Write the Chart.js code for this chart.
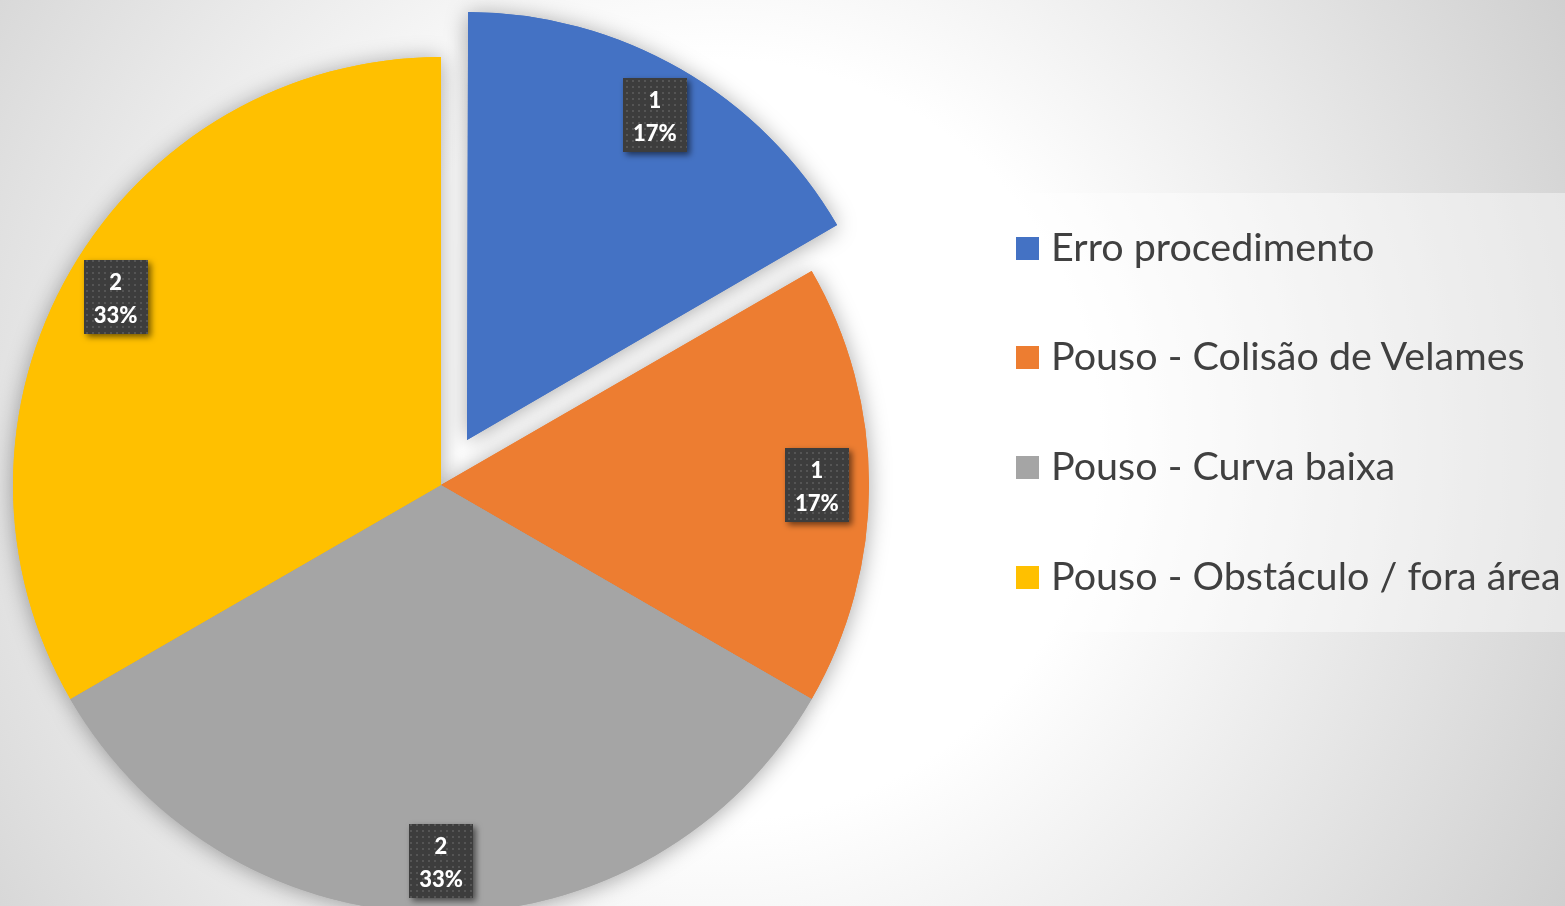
<!DOCTYPE html>
<html>
<head>
<meta charset="utf-8">
<script src="https://cdn.jsdelivr.net/npm/chart.js@4/dist/chart.umd.min.js"></script>
<style>
  html, body { margin: 0; padding: 0; width: 1565px; height: 906px; overflow: hidden; }
  body {
    background: radial-gradient(circle at 720px 440px, #ffffff 0px, #ffffff 380px, #cccccc 1000px);
    font-family: Lato, "Open Sans", sans-serif;
    position: relative;
  }
  #wrap { position: absolute; left: 0; top: 0; width: 1565px; height: 906px; }
  #legend {
    position: absolute; left: 979px; top: 193px; width: 600px; height: 439px;
    background: rgba(255,255,255,0.42);
  }
  .item { position: absolute; left: 37px; height: 50px; display: flex; align-items: center; white-space: nowrap; }
  .sw { width: 23px; height: 23px; margin-right: 12px; flex: none; }
  .lbl { font-size: 39.5px; color: #404040; line-height: 50px; }
</style>
</head>
<body>
<div id="wrap"><canvas id="c" width="1565" height="906"></canvas></div>
<div id="legend"></div>
<script>
const categories = ['Erro procedimento', 'Pouso - Colisão de Velames', 'Pouso - Curva baixa', 'Pouso - Obstáculo / fora área'];
const counts = [1, 1, 2, 2];
const sliceColors = ['#4472C4', '#ED7D31', '#A5A5A5', '#FFC000'];

// HTML legend built from the data arrays
const legendEl = document.getElementById('legend');
const rowCenters = [53, 162, 272, 382];
categories.forEach((name, i) => {
  const row = document.createElement('div');
  row.className = 'item';
  row.style.top = (rowCenters[i] - 25) + 'px';
  const sw = document.createElement('span');
  sw.className = 'sw';
  sw.style.background = sliceColors[i];
  sw.style.marginTop = '4px';
  const t = document.createElement('span');
  t.className = 'lbl';
  t.textContent = name;
  row.appendChild(sw); row.appendChild(t);
  legendEl.appendChild(row);
});

const PIE_R = 428;

function makePattern(ctx) {
  const p = document.createElement('canvas');
  p.width = 6; p.height = 6;
  const g = p.getContext('2d');
  g.fillStyle = '#3d3d3d'; g.fillRect(0, 0, 6, 6);
  g.fillStyle = '#555555'; g.fillRect(2, 2, 2, 2);
  return ctx.createPattern(p, 'repeat');
}

const fixExplode = {
  id: 'fixExplode',
  afterDatasetsUpdate(chart) {
    chart.getDatasetMeta(0).data.forEach(arc => {
      const off = (arc.options.offset || 0) / 4;
      const circ = arc.endAngle - arc.startAngle;
      arc.outerRadius = PIE_R - off * (1 - Math.sin(Math.min(Math.PI, circ)));
    });
  }
};

const sliceShadow = {
  id: 'sliceShadow',
  beforeDatasetsDraw(chart) {
    const ctx = chart.ctx;
    ctx.save();
    ctx.shadowColor = 'rgba(0,0,0,0.35)';
    ctx.shadowBlur = 22;
    ctx.shadowOffsetX = 0;
    ctx.shadowOffsetY = 2;
    chart.getDatasetMeta(0).data.forEach(arc => arc.draw(ctx));
    ctx.restore();
  }
};

const dataLabels = {
  id: 'dataLabels',
  afterDatasetsDraw(chart) {
    const ctx = chart.ctx;
    const meta = chart.getDatasetMeta(0);
    const ds = chart.data.datasets[0];
    const total = ds.data.reduce((a, b) => a + b, 0);
    const pat = makePattern(ctx);
    meta.data.forEach((arc, i) => {
      const mid = (arc.startAngle + arc.endAngle) / 2;
      const off = (arc.options.offset || 0) / 4;
      const r = off + PIE_R * 0.878;
      const cx = arc.x + Math.cos(mid) * r;
      const cy = arc.y + Math.sin(mid) * r;
      const w = 64, h = 74;
      ctx.save();
      ctx.shadowColor = 'rgba(0,0,0,0.55)';
      ctx.shadowBlur = 6;
      ctx.shadowOffsetX = 3;
      ctx.shadowOffsetY = 3;
      ctx.fillStyle = pat;
      ctx.fillRect(Math.round(cx - w / 2), Math.round(cy - h / 2), w, h);
      ctx.restore();
      ctx.save();
      ctx.fillStyle = '#ffffff';
      ctx.font = '900 22px Lato';
      ctx.textAlign = 'center';
      ctx.textBaseline = 'alphabetic';
      const v = ds.data[i];
      ctx.fillText(String(v), cx, cy - 7);
      ctx.fillText(Math.round(v / total * 100) + '%', cx, cy + 26);
      ctx.restore();
    });
  }
};

new Chart(document.getElementById('c'), {
  type: 'pie',
  data: {
    labels: categories,
    datasets: [{
      data: counts,
      backgroundColor: sliceColors,
      borderWidth: 0,
      offset: [208, 0, 0, 0],
      hoverOffset: 0
    }]
  },
  options: {
    responsive: false,
    animation: false,
    events: [],
    radius: PIE_R,
    layout: { padding: { left: 0, right: 683, top: 64, bottom: 0 } },
    plugins: { legend: { display: false }, tooltip: { enabled: false } }
  },
  plugins: [fixExplode, sliceShadow, dataLabels]
});
</script>
</body>
</html>
